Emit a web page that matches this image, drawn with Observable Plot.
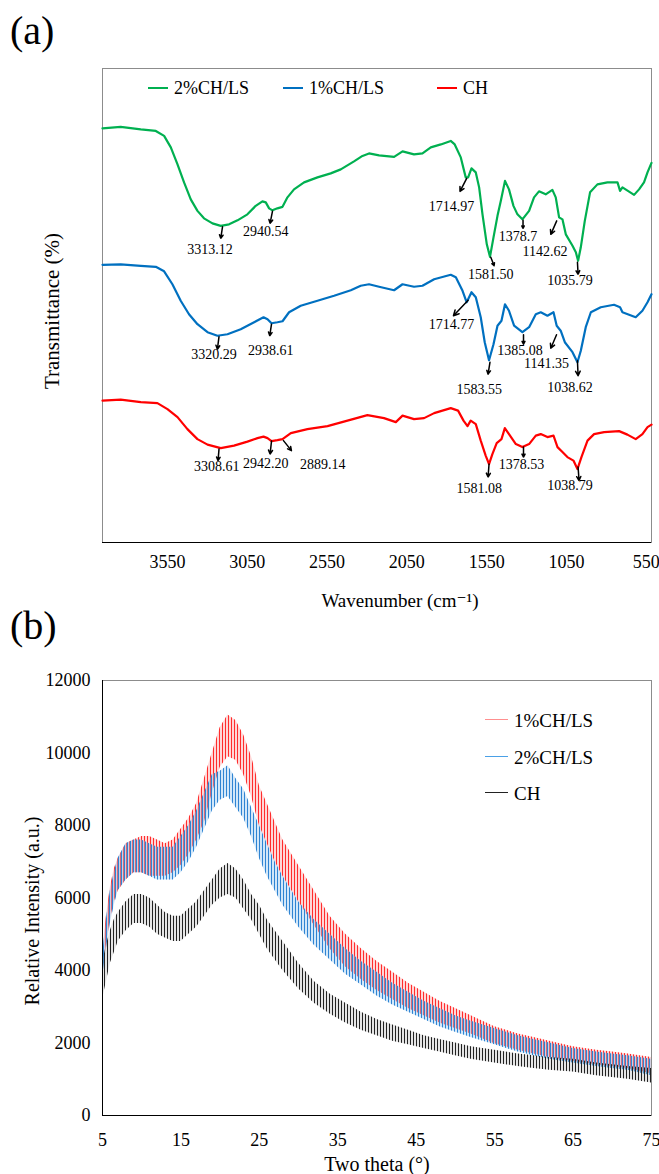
<!DOCTYPE html>
<html><head><meta charset="utf-8">
<script src="https://cdn.jsdelivr.net/npm/d3@7"></script>
<script src="https://cdn.jsdelivr.net/npm/@observablehq/plot@0.6"></script>
<style>
body{margin:0;background:#fff;}
#root{position:relative;width:659px;height:1174px;overflow:hidden;background:#fff;font-family:"Liberation Serif","Times New Roman",Tinos,"DejaVu Serif",serif;color:#000}
.abs{position:absolute;white-space:nowrap;line-height:1}
.c{transform:translate(-50%,-50%)}
.rot{transform:translate(-50%,-50%) rotate(-90deg)}
.sw{position:absolute;height:0}
</style></head><body>
<div id="root"></div>
<script>
// ---------- Panel (a): FTIR ----------
const wnTicks = [3550, 3050, 2550, 2050, 1550, 1050, 550];
const greenWn = [3957,3843,3717,3623,3571,3529,3487,3446,3404,3362,3321,3268,3216,3164,3111,3049,2997,2955,2934,2913,2892,2861,2829,2798,2757,2694,2610,2527,2464,2381,2328,2287,2224,2130,2077,2005,1952,1900,1837,1775,1750,1712,1681,1666,1645,1618,1597,1576,1549,1529,1507,1482,1461,1435,1410,1382,1357,1326,1284,1253,1222,1180,1138,1117,1096,1075,1054,1012,991,977,960,935,902,856,793,730,714,699,626,595,564,542,517];
const greenT = [82.9,83.2,82.7,82.4,81.4,79.1,75.7,72.1,68.7,66.4,64.9,63.9,63.4,63.7,64.5,65.7,67.4,68.3,68.1,66.9,66.5,66.9,67.2,69.1,70.7,72.1,73.1,73.9,74.7,76.3,77.4,77.9,77.5,77.2,78.3,77.7,77.9,79.1,79.7,80.4,79.7,77.1,73.1,73.1,74.9,74.1,71.1,65.7,59.7,57.2,61.1,65.4,68.4,72.4,70.7,67.4,65.7,64.7,66.4,69.1,70.3,69.7,70.6,69.1,65.1,64.7,61.7,59.4,58.1,56.4,59.1,64.4,70.1,71.7,72.1,72.1,70.4,71.1,69.6,70.7,72.1,74.1,76];
const blueWn = [3957,3843,3717,3623,3571,3519,3467,3415,3362,3299,3237,3174,3091,3007,2948,2923,2898,2861,2829,2788,2715,2610,2506,2401,2339,2287,2224,2130,2077,2005,1952,1879,1775,1743,1701,1675,1645,1618,1587,1562,1535,1507,1482,1457,1435,1410,1378,1326,1284,1242,1211,1169,1131,1111,1086,1060,1012,981,960,929,897,835,752,714,699,616,574,542,517];
const blueT = [55.6,55.7,55.4,55.2,54.3,51.7,48.4,45.7,43.7,42.1,41.4,41.7,42.7,44.1,45.1,44.7,43.9,44.1,44.3,46.1,47.4,48.4,49.4,50.5,51.4,51.7,51.2,50.5,51.7,51.2,51.4,52.7,53.6,53.1,50.4,48.1,50.1,49.1,45.1,40.1,36.5,39.7,43.4,44.4,47.7,46.4,43.4,42.1,43.1,45.7,46.1,45.4,46.1,43.4,42.4,40.1,38.1,36.1,38.4,43.1,46.1,47.1,47.6,47.1,46.1,45.1,46.4,48.1,49.7];
const redWn = [3957,3843,3717,3613,3550,3487,3425,3362,3299,3216,3133,3049,2986,2948,2923,2898,2861,2829,2777,2673,2547,2422,2297,2193,2119,2077,2005,1942,1879,1775,1729,1695,1670,1650,1618,1587,1556,1535,1514,1487,1457,1436,1410,1367,1326,1284,1242,1211,1169,1131,1106,1075,1044,1006,981,956,918,877,814,720,668,616,574,542,517];
const redT = [28.4,28.6,28.1,27.9,26.7,25.1,22.7,20.7,19.6,18.9,19.4,20.2,20.9,21.2,20.9,20.3,20.5,20.7,21.9,22.7,23.3,24.4,25.5,24.9,24.1,25.4,24.7,24.9,25.9,26.9,26.4,24.4,23.3,24.4,23.7,20.4,17.4,15.7,17.7,19.9,20.7,22.9,21.7,19.7,19.1,19.7,21.4,21.7,21.1,21.4,19.1,18.1,17.1,16.4,14.7,17.1,20.4,21.7,22.1,22.3,21.6,20.7,21.7,23.1,23.6];

// peak annotations: label, arrow tail (wn,T), arrow head (wn,T), label centre (wn,T)
const annLabel = ["3313.12","2940.54","1714.97","1581.50","1378.7","1142.62","1035.79",
                  "3320.29","2938.61","1714.77","1583.55","1385.08","1141.35","1038.62",
                  "3308.61","2942.20","2889.14","1378.53","1581.08","1038.79"];
const annTailWn = [3205,2892,1675,1524,1322,1111,981, 3227,2898,1666,1529,1319,1112,981, 3227,2898,2823,1319,1535,977];
const annTailT  = [63.2,66.3,72.9,57.1,64.5,64.4,56.1, 41.2,43.7,48.5,36.1,41.6,41.6,36.4, 18.7,20.3,20.4,19.1,15.7,15.1];
const annHeadWn = [3216,2907,1717,1503,1322,1148,977, 3237,2909,1758,1541,1319,1148,977, 3233,2907,2773,1319,1541,971];
const annHeadT  = [60.9,63.9,70.3,55.4,62.9,61.7,53.7, 38.7,41.4,45.4,33.7,39.7,38.9,33.4, 16.4,17.7,18.4,17.1,13.1,12.4];
const annTextWn = [3283,2934,1770,1524,1353,1184,1027, 3258,2903,1770,1597,1341,1175,1027, 3241,2934,2577,1332,1597,1027];
const annTextT  = [58.7,62.3,67.2,53.6,61.3,58.3,52.5, 37.6,38.4,43.6,30.7,38.5,35.9,31.1, 15.2,15.8,15.6,15.7,10.9,11.4];

// ---------- Panel (b): XRD (lower / upper envelope of the noisy traces) ----------
const thetaTicks = [5, 15, 25, 35, 45, 55, 65, 75];
const intensityTicks = [0, 2000, 4000, 6000, 8000, 10000, 12000];
const theta = [5,5.5,6,6.5,7,8,9,10,11,12,13,14,15,16,17,18,19,20,21,22,23,24,25,26,27,28,30,32,34,36,38,40,42,44,46,48,50,52,55,58,60,62,65,68,70,72,75];
const ls1Low  = [3900,4700,5400,5900,6200,6500,6700,6700,6600,6600,6600,6700,6900,7200,7600,8100,8900,9600,9900,9800,9400,8800,8000,7500,7000,6600,5900,5250,4600,4100,3750,3450,3200,2950,2750,2550,2400,2250,1980,1800,1700,1600,1500,1400,1350,1300,1150];
const ls1High = [4500,5500,6300,6800,7100,7500,7600,7700,7700,7600,7500,7600,7900,8200,8600,9300,10000,10700,11050,10900,10500,9900,9100,8600,8100,7600,6900,6200,5500,5000,4600,4250,3950,3650,3400,3150,2950,2750,2450,2250,2150,2050,1900,1800,1750,1700,1600];
const ls2Low  = [3800,4600,5300,5800,6200,6500,6700,6700,6600,6500,6500,6500,6700,7000,7400,7900,8400,8700,8800,8500,8200,7700,7100,6600,6200,5800,5200,4700,4300,3900,3600,3300,3050,2850,2650,2450,2300,2150,1950,1750,1650,1550,1450,1350,1300,1250,1100];
const ls2High = [4400,5400,6200,6700,7100,7500,7600,7600,7500,7400,7400,7400,7700,8000,8400,8900,9400,9500,9650,9300,9000,8500,8000,7500,7000,6600,5900,5400,5000,4600,4250,3950,3650,3400,3150,2950,2750,2600,2400,2200,2100,2000,1850,1750,1700,1650,1550];
const chLow   = [3200,3700,4200,4500,4800,5100,5300,5300,5200,5000,4900,4800,4800,5000,5200,5500,5800,6000,6100,6000,5700,5400,5000,4600,4300,4000,3500,3100,2800,2550,2350,2200,2050,1950,1850,1750,1650,1550,1450,1350,1300,1250,1200,1100,1050,1000,900];
const chHigh  = [4200,4700,5100,5400,5600,5900,6100,6100,6000,5800,5600,5500,5500,5700,5900,6200,6500,6800,6950,6800,6500,6100,5800,5400,5100,4800,4200,3700,3350,3100,2850,2650,2500,2350,2200,2100,2000,1900,1800,1700,1650,1600,1550,1450,1400,1350,1300];

// ---------- build tables ----------
const zip = (xs, ys) => xs.slice(0, Math.min(xs.length, ys.length)).map((x, i) => ({wn: x, t: ys[i]}));
const greenData = zip(greenWn, greenT), blueData = zip(blueWn, blueT), redData = zip(redWn, redT);
const ann = annLabel.map((label, i) => ({label, tx: annTailWn[i], ty: annTailT[i], hx: annHeadWn[i], hy: annHeadT[i], lx: annTextWn[i], ly: annTextT[i]}));
const band = (lo, hi) => theta.map((th, i) => ({theta: th, lo: lo[i], hi: hi[i]}));

const FONT = "'Liberation Serif', 'Times New Roman', Tinos, 'DejaVu Serif', serif";
const root = document.getElementById("root");

const plotA = Plot.plot({
  width: 659, height: 620,
  marginTop: 68, marginBottom: 78, marginLeft: 102, marginRight: 8,
  style: {fontFamily: FONT, fontSize: "18px", color: "#000", background: "transparent"},
  x: {domain: [3957, 517], ticks: wnTicks, tickSize: 0, tickPadding: 13, label: null, tickFormat: d => String(d)},
  y: {domain: [0, 94.9], axis: null},
  marks: [
    Plot.frame({stroke: "#8c8c8c"}),
    Plot.ruleY([0], {stroke: "#000"}),
    Plot.line(redData, {x: "wn", y: "t", stroke: "#ff0000", strokeWidth: 2.2}),
    Plot.line(blueData, {x: "wn", y: "t", stroke: "#0070c0", strokeWidth: 2.2}),
    Plot.line(greenData, {x: "wn", y: "t", stroke: "#00b050", strokeWidth: 2.2}),
    Plot.arrow(ann, {x1: "tx", y1: "ty", x2: "hx", y2: "hy", stroke: "#000", strokeWidth: 1.5, headLength: 6, headAngle: 55}),
    Plot.text(ann, {x: "lx", y: "ly", text: "label", fontSize: 14, fill: "#000", fontFamily: FONT})
  ]
});
plotA.style.position = "absolute"; plotA.style.left = "0px"; plotA.style.top = "0px";
root.appendChild(plotA);

const plotB = Plot.plot({
  width: 659, height: 554,
  marginTop: 60, marginBottom: 59, marginLeft: 102, marginRight: 8,
  style: {fontFamily: FONT, fontSize: "18px", color: "#000", background: "transparent"},
  x: {domain: [5, 75], ticks: thetaTicks, tickSize: 0, tickPadding: 18, label: null},
  y: {domain: [0, 12000], ticks: intensityTicks, tickSize: 0, tickPadding: 12, label: null, tickFormat: d => String(d)},
  marks: [
    Plot.frame({stroke: "#8c8c8c"}),
    Plot.areaY(band(ls1Low, ls1High), {x: "theta", y1: "lo", y2: "hi", fill: "#ff9c9c", fillOpacity: 0.4}),
    Plot.areaY(band(ls1Low, ls1High), {x: "theta", y1: "lo", y2: "hi", fill: "url(#hatchRed)"}),
    Plot.areaY(band(ls2Low, ls2High), {x: "theta", y1: "lo", y2: "hi", fill: "#8fc4ef", fillOpacity: 0.4}),
    Plot.areaY(band(ls2Low, ls2High), {x: "theta", y1: "lo", y2: "hi", fill: "url(#hatchBlue)"}),
    Plot.areaY(band(chLow, chHigh), {x: "theta", y1: "lo", y2: "hi", fill: "#a8a8a8", fillOpacity: 0.3}),
    Plot.areaY(band(chLow, chHigh), {x: "theta", y1: "lo", y2: "hi", fill: "url(#hatchBlack)"}),
    Plot.ruleX([5], {stroke: "#000"}),
    Plot.ruleY([0], {stroke: "#000"})
  ]
});
d3.select(plotB).insert("defs", ":first-child").html(`
  <pattern id="hatchRed" patternUnits="userSpaceOnUse" width="3" height="12">
    <rect x="0" y="0" width="1" height="12" fill="#ff2d2d"/></pattern>
  <pattern id="hatchBlue" patternUnits="userSpaceOnUse" width="3" height="12">
    <rect x="1" y="0" width="1" height="12" fill="#2f84d2"/></pattern>
  <pattern id="hatchBlack" patternUnits="userSpaceOnUse" width="3" height="12">
    <rect x="2" y="0" width="1" height="12" fill="#222222"/></pattern>`);
plotB.style.position = "absolute"; plotB.style.left = "0px"; plotB.style.top = "620px";
root.appendChild(plotB);

// ---------- text overlays ----------
function txt(s, x, y, size, cls) {
  const d = document.createElement("div");
  d.className = "abs " + (cls || "");
  d.style.left = x + "px"; d.style.top = y + "px"; d.style.fontSize = size + "px";
  d.textContent = s; root.appendChild(d); return d;
}
function sw(x, y, w, color, h) {
  const d = document.createElement("div");
  d.className = "sw"; d.style.left = x + "px"; d.style.top = (y - h / 2) + "px";
  d.style.width = w + "px"; d.style.borderTop = h + "px solid " + color; root.appendChild(d);
}
txt("(a)", 10, 10.5, 40);
txt("(b)", 10, 605.5, 40);
txt("Transmittance (%)", 52, 311, 21, "rot");
txt("Wavenumber (cm\u207B\u00B9)", 400, 600, 19, "c");
txt("Relative Intensity (a.u.)", 32, 911, 20, "rot");
txt("Two theta (\u00B0)", 377, 1164, 20, "c");

// legend (a)
const legA = [["2%CH/LS", "#00b050", 148], ["1%CH/LS", "#0070c0", 283], ["CH", "#ff0000", 437]];
legA.forEach(([s, c, x]) => { sw(x, 88, 20, c, 2.2); txt(s, x + 26, 88, 18, "").style.transform = "translateY(-50%)"; });
// legend (b)
const legB = [["1%CH/LS", "#ff8f8f", 720], ["2%CH/LS", "#4aa0e6", 756.7], ["CH", "#222", 792.7]];
legB.forEach(([s, c, y]) => { sw(485, y, 23, c, 1.5); txt(s, 514, y, 19, "").style.transform = "translateY(-50%)"; });
</script>
</body></html>
